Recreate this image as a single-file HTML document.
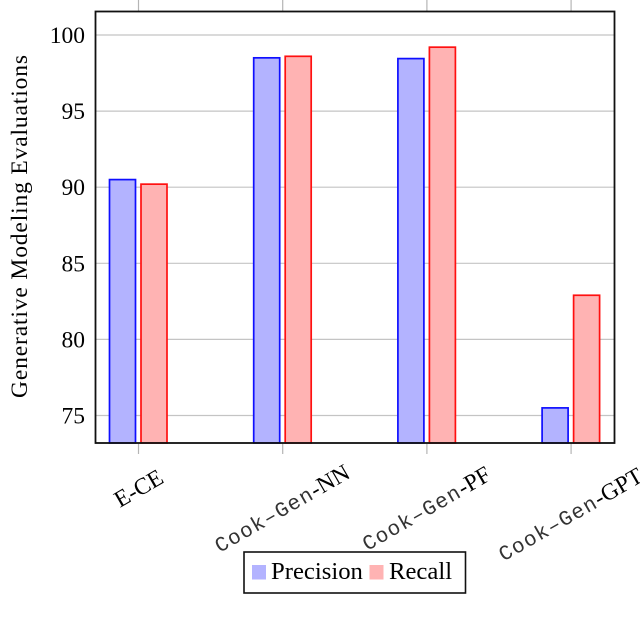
<!DOCTYPE html>
<html>
<head>
<meta charset="utf-8">
<style>
html,body{margin:0;padding:0;background:#fff;width:640px;height:625px;overflow:hidden}
svg{display:block}
text{font-family:"Liberation Serif",serif;fill:#000}
.mono{font-family:"Liberation Mono",monospace;font-size:21px;letter-spacing:1.2px;fill:#333}
</style>
</head>
<body>
<svg id="chart" width="640" height="625" viewBox="0 0 640 625" xmlns="http://www.w3.org/2000/svg"></svg>
<script>
const categoryMono = ["", "Cook\u2013Gen", "Cook\u2013Gen", "Cook\u2013Gen"];
const categorySerif = ["E-CE", "-NN", "-PF", "-GPT"];
const precision = [90.5, 98.5, 98.45, 75.5];
const recall = [90.2, 98.6, 99.2, 82.9];
const yTicks = [75, 80, 85, 90, 95, 100];

const svg = document.getElementById('chart');
const NS = 'http://www.w3.org/2000/svg';
const plotLeft = 95.5, plotRight = 614.5, plotTop = 11.5, plotBottom = 443;
function yScale(v){ return 415.5 - (v - 75) * 15.22; }
function xScale(i){ return 138.5 + i * 144.2; }
function make(tag, attrs, parent){
  const el = document.createElementNS(NS, tag);
  for (const k in attrs) el.setAttribute(k, attrs[k]);
  (parent || svg).appendChild(el);
  return el;
}

yTicks.forEach(function(t){
  const y = yScale(t);
  const grid = make('line', {x1:plotLeft, x2:plotRight, y1:y, y2:y, stroke:'#c4c4c4', 'stroke-width':1.2});
  
  
  const label = make('text', {x:85, y:y + 8, 'text-anchor':'end', 'font-size':23.5});
  label.textContent = t;
  
  
});

categorySerif.forEach(function(name, i){
  const x = xScale(i);
  const tickTop = make('line', {x1:x, x2:x, y1:0, y2:plotTop, stroke:'#b5b5b5', 'stroke-width':1.2});
  
  
  const tickBottom = make('line', {x1:x, x2:x, y1:plotBottom, y2:454, stroke:'#b5b5b5', 'stroke-width':1.2});
  
  

  const barWidth = 26;
  const p = make('rect', {x:x - 29, y:yScale(precision[i]), width:barWidth, height:plotBottom - yScale(precision[i]), fill:'#b3b3ff', stroke:'#0f0fff', 'stroke-width':1.7});
  
  
  const r = make('rect', {x:x + 2.5, y:yScale(recall[i]), width:barWidth, height:plotBottom - yScale(recall[i]), fill:'#ffb3b3', stroke:'#ff1010', 'stroke-width':1.7});
  
  

  const cy = i === 0 ? 488 : (i === 3 ? 514 : 508);
  const cx = x + (i === 0 ? 4 : 3);
  const label = make('text', {x:0, y:0, 'text-anchor':'middle', 'font-size':23.5, transform:'translate(' + cx + ' ' + (cy + 7) + ') rotate(-30)'});
  
  
  if (categoryMono[i]) {
    const mono = make('tspan', {class:'mono'}, label);
    mono.textContent = categoryMono[i];
  }
  const serif = make('tspan', {}, label);
  serif.textContent = name;
});

const frame = make('rect', {x:plotLeft, y:plotTop, width:plotRight - plotLeft, height:plotBottom - plotTop, fill:'none', stroke:'#111', 'stroke-width':1.8});



const yTitle = make('text', {x:0, y:0, 'text-anchor':'middle', 'font-size':23.5, textLength:343, transform:'translate(27 226.5) rotate(-90)'});
yTitle.textContent = 'Generative Modeling Evaluations';



const legend = make('rect', {x:244, y:552, width:221.5, height:41, fill:'#fff', stroke:'#111', 'stroke-width':1.6});


const swatchP = make('rect', {x:252, y:565, width:14, height:14.5, fill:'#b3b3ff'});


const textP = make('text', {x:271, y:579, 'font-size':24.7});
textP.textContent = 'Precision';


const swatchR = make('rect', {x:369.5, y:565, width:14, height:14.5, fill:'#ffb3b3'});


const textR = make('text', {x:389, y:579, 'font-size':24.7});
textR.textContent = 'Recall';


</script>
</body>
</html>
